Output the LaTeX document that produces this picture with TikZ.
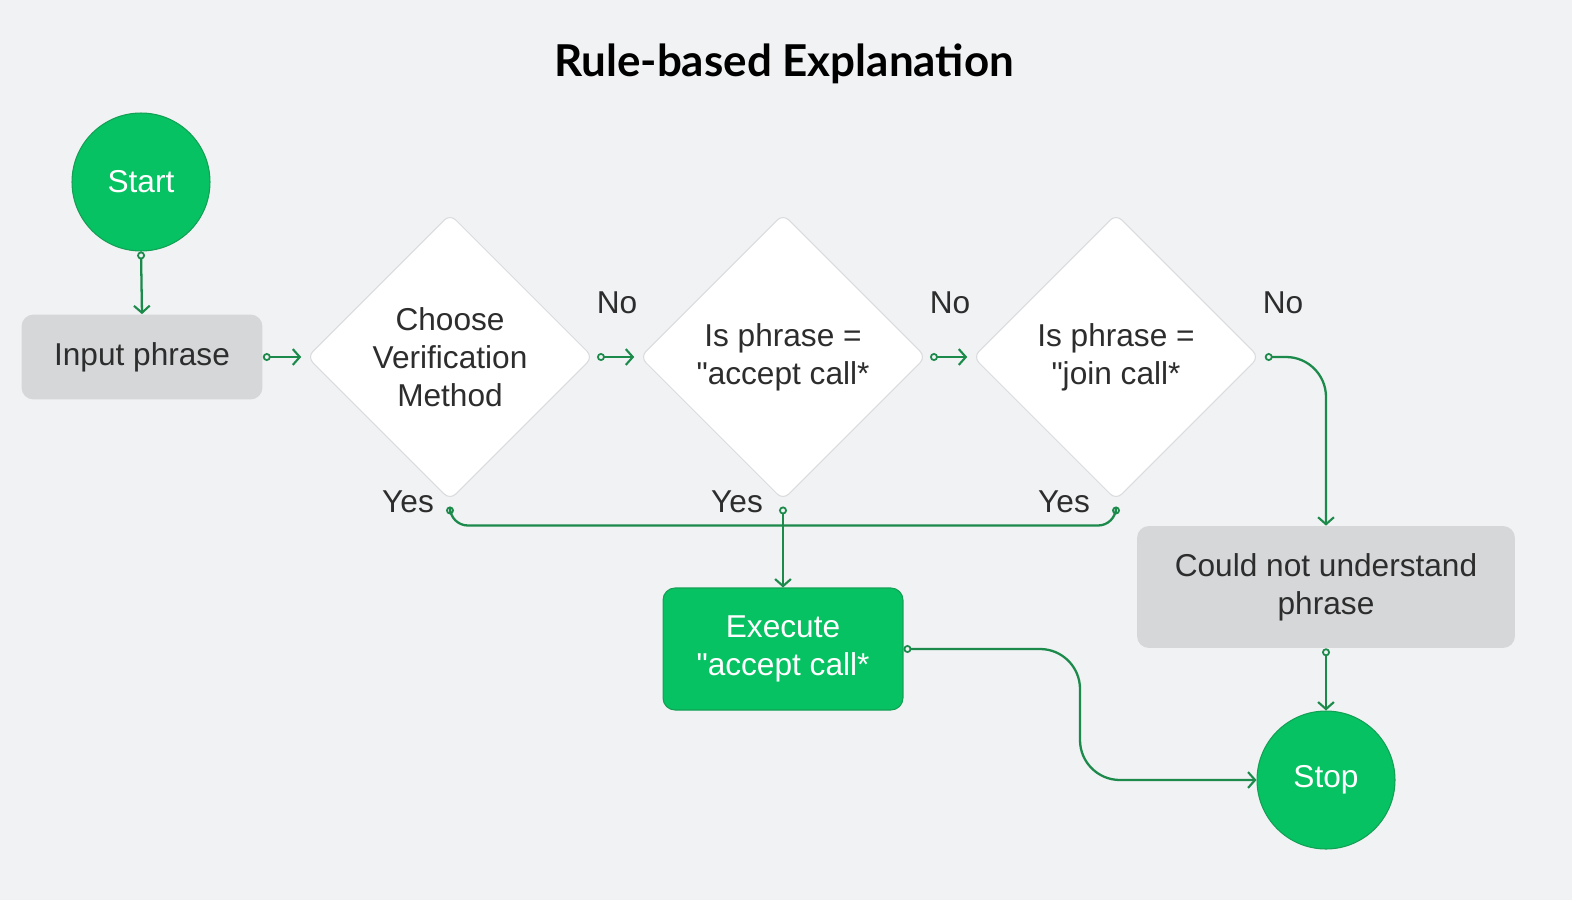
\documentclass[tikz,border=0pt]{standalone}
\usepackage{fontspec}
\setmainfont{Liberation Sans}[Ligatures=TeXOff]
\newfontfamily\titlefont{Lato}
\usetikzlibrary{arrows.meta, shapes.geometric, positioning, calc}
\definecolor{flowgreen} {RGB}{  6, 194,  98}
\definecolor{linegreen} {RGB}{ 27, 138,  74}
\definecolor{bggray}    {RGB}{240, 242, 244}
\definecolor{boxgray}   {RGB}{214, 215, 217}
\definecolor{textdark}  {RGB}{ 45,  45,  45}
\definecolor{edgegray}  {RGB}{218, 219, 221}

\tikzset{
	bodyfont/.style={font=\fontsize{18}{21.5}\selectfont},
	terminal/.style={circle, fill=flowgreen, draw=linegreen!60!flowgreen, line width=0.6pt,
		minimum size=2.76cm, inner sep=0pt, text=white, bodyfont},
	procbox/.style={rectangle, rounded corners=0.24cm, fill=boxgray, text=textdark,
		align=center, inner sep=0pt, bodyfont},
	actbox/.style={procbox, fill=flowgreen, draw=linegreen!60!flowgreen, line width=0.6pt, text=white},
	decision/.style={diamond, aspect=1, fill=white, draw=edgegray, line width=0.6pt,
		rounded corners=0.16cm, minimum width=5.72cm, minimum height=5.72cm,
		inner sep=0pt, align=center, text=textdark, bodyfont},
	answer/.style={text=textdark, bodyfont},
	dot/.tip={Circle[open, length=4.5pt, width=4.5pt, line width=1pt]},
	flow/.style={draw=linegreen, line width=1.3pt,
		{dot}-{Straight Barb[length=4pt, width=9pt, line width=1.2pt]}}
}

\begin{document}
\begin{tikzpicture}[x=0.02cm, y=-0.02cm]
	\fill[bggray] (0,0) rectangle (1572,900);
	\useasboundingbox (0,0) rectangle (1572,900);

	\node[font=\titlefont\bfseries\fontsize{25}{30}\selectfont, text=black] (title) at (784,64) {Rule-based Explanation};

	% nodes
	\node[terminal] (start) at (141,182) {Start};
	\node[procbox, minimum width=4.82cm, minimum height=1.7cm] (input) at (142,357) {Input phrase};
	\node[decision] (verify) at (450,357) {Choose\\Verification\\Method};
	\node[decision] (accept) at (783,357) {Is phrase =\\"accept call*};
	\node[decision] (join) at (1116,357) {Is phrase =\\"join call*};
	\node[actbox, minimum width=4.8cm, minimum height=2.44cm] (execute) at (783,649) {Execute\\"accept call*};
	\node[procbox, minimum width=7.56cm, minimum height=2.44cm] (unknown) at (1326,587) {Could not understand\\phrase};
	\node[terminal] (stop) at (1326,780) {Stop};

	% labels
	\node[answer] (no1) at (617,303) {No};
	\node[answer] (no2) at (950,303) {No};
	\node[answer] (no3) at (1283,303) {No};
	\node[answer] (yes1) at (408,502) {Yes};
	\node[answer] (yes2) at (737,502) {Yes};
	\node[answer] (yes3) at (1064,502) {Yes};

	% connectors
	\coordinate (out1) at ($(verify.south)+(0,6)$);
	\coordinate (out2) at ($(accept.south)+(0,6)$);
	\coordinate (out3) at ($(join.south)+(0,6)$);
	\coordinate (bend) at ($(execute.east)!0.5!(stop.west)$);

	\draw[flow] (start.south) -- (input.north);
	\draw[flow, shorten >=3pt] (input.east) -- (verify.west);
	\draw[flow, shorten <=2pt, shorten >=3pt] (verify.east) -- (accept.west);
	\draw[flow, shorten <=2pt, shorten >=3pt] (accept.east) -- (join.west);
	\draw[flow, shorten <=3pt, rounded corners=0.8cm] (join.east) -| (unknown.north);
	\draw[draw=linegreen, line width=1.3pt, rounded corners=0.36cm, {dot}-{dot}]
		(out1) -- ++(0,19) -| (out3);
	\draw[flow] (out2) -- (execute.north);
	\draw[flow, rounded corners=0.8cm] (execute.east) -- (bend |- execute.east) |- (stop.west);
	\draw[flow] (unknown.south) -- (stop.north);
\end{tikzpicture}
\end{document}
